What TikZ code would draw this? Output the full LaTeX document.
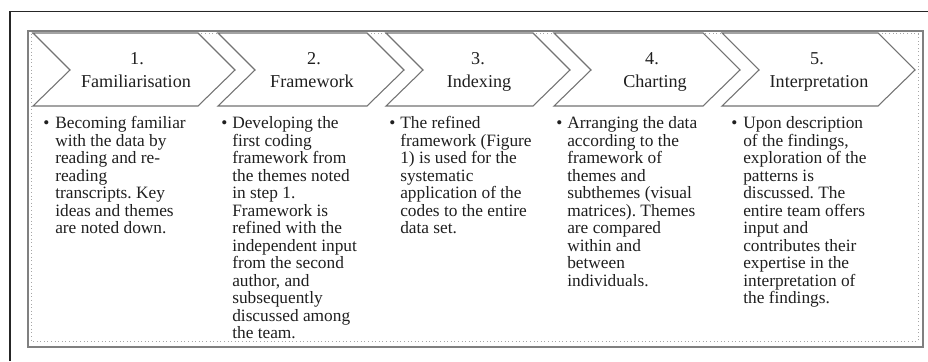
\documentclass[tikz,border=0pt]{standalone}
\usepackage{fontspec}
\setmainfont{Liberation Serif}
\frenchspacing
\newcommand\bodylines[1]{\vtop{\frenchspacing\baselineskip=13.125pt\lineskiplimit=-20pt\halign{##\hfil\cr#1\crcr}}}
\begin{document}
\begin{tikzpicture}[x=0.75pt,y=-0.75pt,
  chev/.style={draw=black!55,line width=0.8pt,line join=miter},
  frameouter/.style={draw=black!50,line width=1.3pt},
  framedots/.style={draw=black!35,line width=0.7pt,dotted},
  headtext/.style={font=\fontsize{13.6}{15}\selectfont,text=black!88,inner sep=0pt,anchor=base},
  bodytext/.style={font=\fontsize{13}{13.125}\selectfont,text=black!88,inner sep=0pt,anchor=base west},
  bul/.style={font=\fontsize{13}{13.125}\selectfont,text=black!88,inner sep=0pt,anchor=base west}]
\useasboundingbox (0,0) rectangle (928,361);
% outer black frame
\draw[line width=1.1pt,black!85] (10,361) -- (10,11.5) -- (928,11.5);
% gray frame
\draw[frameouter] (28,31) rectangle (923,347);
\draw[framedots] (31,33.5) rectangle (918,341);
% chevrons
\foreach \L/\R in {33/198,218/367,386/533,554/703,722/878}{
  \draw[chev,fill=white] (\L,33) -- (\R,33) -- (\R+37,70) -- (\R,106) -- (\L,106) -- (\L+37,70) -- cycle;
}
% headers
\node[headtext] (n1) at (137,64) {1.};
\node[headtext] (h1) at (136,87) {Familiarisation};
\node[headtext] (n2) at (314,64) {2.};
\node[headtext] (h2) at (312,87) {Framework};
\node[headtext] (n3) at (478,64) {3.};
\node[headtext] (h3) at (479,87) {Indexing};
\node[headtext] (n4) at (652,64) {4.};
\node[headtext] (h4) at (655,87) {Charting};
\node[headtext] (n5) at (817,64) {5.};
\node[headtext] (h5) at (819,87) {Interpretation};
% bullets and bodies
\node[bul] (d1) at (43,128.5) {•};
\node[bodytext] (b1) at (55,128.5) {\bodylines{Becoming familiar\cr with the data by\cr reading and re-\cr reading\cr transcripts. Key\cr ideas and themes\cr are noted down.}};
\node[bul] (d2) at (221,128.5) {•};
\node[bodytext] (b2) at (232,128.5) {\bodylines{Developing the\cr first coding\cr framework from\cr the themes noted\cr in step 1.\cr Framework is\cr refined with the\cr independent input\cr from the second\cr author, and\cr subsequently\cr discussed among\cr the team.}};
\node[bul] (d3) at (389,128.5) {•};
\node[bodytext] (b3) at (400,128.5) {\bodylines{The refined\cr framework (Figure\cr 1) is used for the\cr systematic\cr application of the\cr codes to the entire\cr data set.}};
\node[bul] (d4) at (556,128.5) {•};
\node[bodytext] (b4) at (567,128.5) {\bodylines{Arranging the data\cr according to the\cr framework of\cr themes and\cr subthemes (visual\cr matrices). Themes\cr are compared\cr within and\cr between\cr individuals.}};
\node[bul] (d5) at (731,128.5) {•};
\node[bodytext] (b5) at (743,128.5) {\bodylines{Upon description\cr of the findings,\cr exploration of the\cr patterns is\cr discussed. The\cr entire team offers\cr input and\cr contributes their\cr expertise in the\cr interpretation of\cr the findings.}};
\end{tikzpicture}
\end{document}
